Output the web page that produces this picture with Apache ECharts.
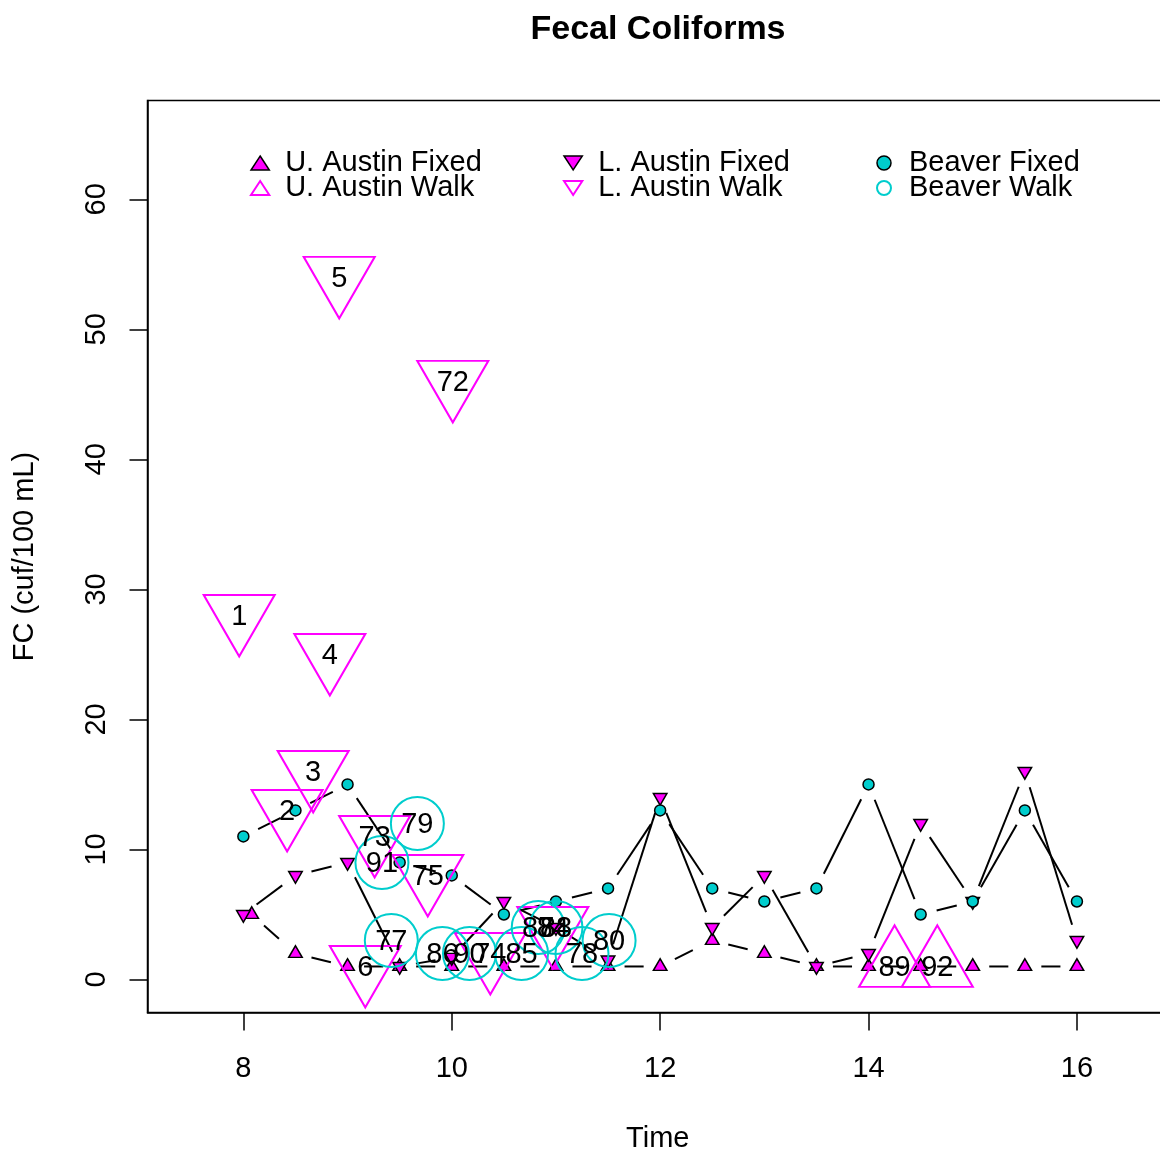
<!DOCTYPE html>
<html>
<head>
<meta charset="utf-8">
<script src="https://cdn.jsdelivr.net/npm/echarts@6/dist/echarts.min.js"></script>
<style>
html, body { margin: 0; padding: 0; background: #fff; }
#chart { width: 1160px; height: 1153px; }
</style>
</head>
<body>
<div id="chart"></div>
<script>
// axis ticks
const xTicks = [8, 10, 12, 14, 16]
const yTicks = [0, 10, 20, 30, 40, 50, 60]

// fixed stations (hour of day, FC)
const uAustinFixedX = [8.08, 8.5, 9, 9.5, 10, 10.5, 11, 11.5, 12, 12.5, 13, 13.5, 14, 14.5, 15, 15.5, 16]
const uAustinFixedY = [5, 2, 1, 1, 1, 1, 1, 1, 1, 3, 2, 1, 1, 1, 1, 1, 1]
const lAustinFixedX = [8, 8.5, 9, 9.5, 10, 10.5, 11, 11.5, 12, 12.5, 13, 13.5, 14, 14.5, 15, 15.5, 16]
const lAustinFixedY = [5, 8, 9, 1, 1.7, 6, 4, 1.5, 14, 4, 8, 1, 2, 12, 6, 16, 3]
const beaverFixedX = [8, 8.5, 9, 9.5, 10, 10.5, 11, 11.5, 12, 12.5, 13, 13.5, 14, 14.5, 15, 15.5, 16]
const beaverFixedY = [11, 13, 15, 9, 8, 5, 6, 7, 13, 7, 6, 7, 15, 5, 6, 13, 6]

// walk samples with sample numbers
const uAustinWalkX = [14.25, 14.66]
const uAustinWalkY = [1, 1]
const uAustinWalkIds = ['89', '92']
const lAustinWalkX = [7.96, 8.42, 8.67, 8.83, 8.92, 9.17, 10.01, 9.26, 10.37, 9.77, 10.97]
const lAustinWalkY = [28, 13, 16, 25, 54, 1, 46, 11, 2, 8, 4]
const lAustinWalkIds = ['1', '2', '3', '4', '5', '6', '72', '73', '74', '75', '84']
const beaverWalkX = [9.42, 11.25, 9.67, 11.51, 10.67, 9.91, 10.83, 11.0, 10.17, 9.33]
const beaverWalkY = [3, 2, 12, 3, 2, 2, 4, 4, 2, 9]
const beaverWalkIds = ['77', '78', '79', '80', '85', '86', '87', '88', '90', '91']

const MAGENTA = '#FF00FF'
const CYAN = '#00CDCD'
const FONT = 'Liberation Sans, Arial, sans-serif'
const GAP = 16.5
const UP = 'path://M8.5,0L17,13L0,13Z'
const DOWN = 'path://M0,0L17,0L8.5,13Z'

let chart = echarts.init(document.getElementById('chart'))

// lines between points, with the gap round each point like type="b"
function gapLine(name, xs, ys, dash) {
	return {
		type: 'custom',
		name: name,
		silent: true,
		z: 2,
		encode: { x: 0, y: 1 },
		data: xs.map((x, i) => [x, ys[i]]),
		renderItem: function (params, api) {
			let i = params.dataIndex
			if (i === 0) return null
			let a = api.coord([xs[i - 1], ys[i - 1]])
			let b = api.coord([api.value(0), api.value(1)])
			let dx = b[0] - a[0]
			let dy = b[1] - a[1]
			let len = Math.sqrt(dx * dx + dy * dy)
			if (len <= 2 * GAP) return null
			let ux = dx / len
			let uy = dy / len
			return {
				type: 'line',
				shape: { x1: a[0] + ux * GAP, y1: a[1] + uy * GAP, x2: b[0] - ux * GAP, y2: b[1] - uy * GAP },
				style: { stroke: '#000', lineWidth: 2, lineDash: dash }
			}
		}
	}
}

function fixedPoints(name, xs, ys, symbol, size, offset, fill) {
	return {
		type: 'scatter',
		name: name,
		z: 3,
		symbol: symbol,
		symbolSize: size,
		symbolOffset: offset,
		symbolKeepAspect: false,
		data: xs.map((x, i) => [x, ys[i]]),
		itemStyle: { color: fill, borderColor: '#000', borderWidth: 1.5, opacity: 1 }
	}
}

function walkPoints(name, xs, ys, ids, symbol, size, offset, stroke) {
	return {
		type: 'scatter',
		name: name,
		z: 4,
		symbol: symbol,
		symbolSize: size,
		symbolOffset: offset,
		symbolKeepAspect: false,
		data: xs.map((x, i) => ({ name: ids[i], value: [x, ys[i]] })),
		itemStyle: { color: 'rgba(0,0,0,0)', borderColor: stroke, borderWidth: 2, opacity: 1 },
		label: {
			show: true,
			position: 'inside',
			formatter: '{b}',
			offset: [0, 2 - offset[1]],
			color: '#000',
			fontSize: 29,
			fontFamily: FONT
		}
	}
}

function legendCol(left, items) {
	return {
		left: left,
		top: 148.5,
		orient: 'vertical',
		padding: 0,
		itemGap: -4,
		itemWidth: 40,
		itemHeight: 14,
		selectedMode: false,
		textStyle: { fontSize: 29, lineHeight: 25, color: '#000', fontFamily: FONT },
		data: items
	}
}

let option = {
	animation: false,
	backgroundColor: '#fff',
	title: {
		text: 'Fecal Coliforms',
		left: 653,
		top: 8,
		textAlign: 'center',
		textStyle: { fontSize: 34, fontWeight: 'bold', color: '#000', fontFamily: FONT }
	},
	legend: [
		legendCol(250, [
			{ name: 'U. Austin Fixed', icon: UP, itemStyle: { color: MAGENTA, borderColor: '#000', borderWidth: 1.5 } },
			{ name: 'U. Austin Walk', icon: UP, itemStyle: { color: '#fff', borderColor: MAGENTA, borderWidth: 2 } }
		]),
		legendCol(563, [
			{ name: 'L. Austin Fixed', icon: DOWN, itemStyle: { color: MAGENTA, borderColor: '#000', borderWidth: 1.5 } },
			{ name: 'L. Austin Walk', icon: DOWN, itemStyle: { color: '#fff', borderColor: MAGENTA, borderWidth: 2 } }
		]),
		legendCol(876, [
			{ name: 'Beaver Fixed', icon: 'circle', itemStyle: { color: CYAN, borderColor: '#000', borderWidth: 1.5 } },
			{ name: 'Beaver Walk', icon: 'circle', itemStyle: { color: '#fff', borderColor: CYAN, borderWidth: 2 } }
		])
	],
	grid: {
		left: 147.5,
		top: 100.5,
		width: 1020.5,
		height: 912,
		outerBoundsMode: 'none',
		containLabel: false,
		show: true,
		borderColor: '#000',
		borderWidth: 1.5,
		backgroundColor: 'rgba(0,0,0,0)'
	},
	xAxis: {
		type: 'value',
		min: 7.08,
		max: 16.874,
		name: 'Time',
		nameLocation: 'middle',
		nameGap: 112,
		nameTextStyle: { fontSize: 29, color: '#000', fontFamily: FONT },
		axisLine: { show: true, onZero: false, lineStyle: { color: '#000', width: 1.5 } },
		axisTick: { show: true, customValues: xTicks, length: 18, lineStyle: { color: '#000', width: 1.5 } },
		axisLabel: { customValues: xTicks, margin: 42, fontSize: 29, color: '#000', fontFamily: FONT },
		splitLine: { show: false }
	},
	yAxis: {
		type: 'value',
		min: -2.54,
		max: 67.6,
		name: 'FC (cuf/100 mL)',
		nameLocation: 'middle',
		nameGap: 108,
		nameRotate: 90,
		nameTextStyle: { fontSize: 29, color: '#000', fontFamily: FONT },
		axisLine: { show: true, onZero: false, lineStyle: { color: '#000', width: 1.5 } },
		axisTick: { show: true, customValues: yTicks, length: 18, lineStyle: { color: '#000', width: 1.5 } },
		axisLabel: { customValues: yTicks, rotate: 90, margin: 36, fontSize: 29, color: '#000', fontFamily: FONT },
		splitLine: { show: false }
	},
	series: [
		gapLine('U. Austin Fixed line', uAustinFixedX, uAustinFixedY, [20, 20]),
		gapLine('L. Austin Fixed line', lAustinFixedX, lAustinFixedY, null),
		gapLine('Beaver Fixed line', beaverFixedX, beaverFixedY, null),
		fixedPoints('U. Austin Fixed', uAustinFixedX, uAustinFixedY, UP, [13.5, 11.7], [0, -1.9], MAGENTA),
		fixedPoints('L. Austin Fixed', lAustinFixedX, lAustinFixedY, DOWN, [13.5, 11.7], [0, 1.9], MAGENTA),
		fixedPoints('Beaver Fixed', beaverFixedX, beaverFixedY, 'circle', 11, [0, 0], CYAN),
		walkPoints('U. Austin Walk', uAustinWalkX, uAustinWalkY, uAustinWalkIds, UP, [71, 61.5], [0, -10.3], MAGENTA),
		walkPoints('L. Austin Walk', lAustinWalkX, lAustinWalkY, lAustinWalkIds, DOWN, [71, 61.5], [0, 10.3], MAGENTA),
		walkPoints('Beaver Walk', beaverWalkX, beaverWalkY, beaverWalkIds, 'circle', 53, [0, 0], CYAN)
	]
}

chart.setOption(option)
</script>
</body>
</html>
